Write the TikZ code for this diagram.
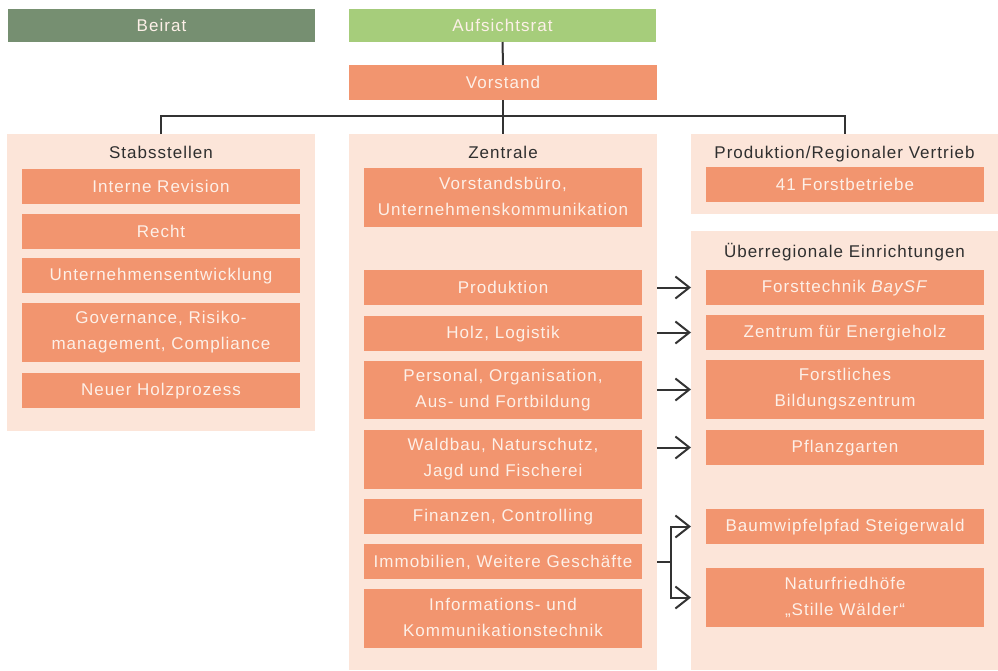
\documentclass[tikz,border=0pt]{standalone}
\usepackage{fontspec}
\setmainfont{Liberation Sans}[LetterSpace=6]
\usetikzlibrary{arrows.meta}
\definecolor{beirat}{HTML}{768F71}
\definecolor{aufs}{HTML}{A6CD7B}
\definecolor{ora}{HTML}{F2956F}
\definecolor{pan}{HTML}{FCE5D9}
\definecolor{txtl}{HTML}{FDF0E8}
\definecolor{txtd}{HTML}{2F2F2F}
\definecolor{lncol}{HTML}{333333}
\begin{document}
\begin{tikzpicture}[x=1pt,y=-1pt,
  base/.style={inner sep=0pt, outer sep=0pt, font=\fontsize{17}{26}\selectfont, align=center},
  strutted/.style={execute at begin node={\rule{0pt}{14pt}}, execute at end node={\rule[-1.8pt]{0pt}{1.8pt}}},
  obox/.style={base, strutted, fill=ora, text=txtl, minimum width=278pt, minimum height=35pt},
  tall/.style={minimum height=59pt},
  panel/.style={base, fill=pan, minimum width=308pt},
  ttl/.style={base, text=txtd, anchor=base},
  topbox/.style={base, strutted, text=txtl, minimum width=307pt, minimum height=33pt},
  ln/.style={draw=lncol, line width=2pt},
  arr/.style={ln, -{Straight Barb[length=14pt,width=22pt,line width=2pt]}}
]
\useasboundingbox (0,0) rectangle (998,670);

% top
\node[topbox, fill=beirat] (beirat) at (161.5,25.5) {Beirat};
\node[topbox, fill=aufs] (auf) at (502.5,25.5) {Aufsichtsrat};
\node[obox, minimum width=308pt] (vor) at (503,82.5) {Vorstand};

% panels
\node[panel, minimum height=297pt] (stab) at (161,282.5) {};
\node[panel, minimum height=536pt] (zen) at (503,402) {};
\node[panel, minimum width=307pt, minimum height=80pt] (prod) at (844.5,174) {};
\node[panel, minimum width=307pt, minimum height=439pt] (ueb) at (844.5,450.5) {};

% titles
\node[ttl] (tstab) at (161,158) {Stabsstellen};
\node[ttl] (tzen) at (503,158) {Zentrale};
\node[ttl] (tprod) at (844.5,158) {Produktion/Regionaler Vertrieb};
\node[ttl] (tueb) at (844.5,257) {Überregionale Einrichtungen};

% Stabsstellen
\node[obox] (ir) at (161,186.5) {Interne Revision};
\node[obox] (re) at (161,231.5) {Recht};
\node[obox] (ue) at (161,275.5) {Unternehmensentwicklung};
\node[obox, tall] (gov) at (161,332.5) {Governance, Risiko-\\management, Compliance};
\node[obox] (nh) at (161,390.5) {Neuer Holzprozess};

% Zentrale
\node[obox, tall] (vb) at (503,197.5) {Vorstandsbüro,\\Unternehmenskommunikation};
\node[obox] (zp) at (503,287.5) {Produktion};
\node[obox] (hl) at (503,333.5) {Holz, Logistik};
\node[obox, minimum height=58pt] (pers) at (503,390) {Personal, Organisation,\\Aus- und Fortbildung};
\node[obox, tall] (wald) at (503,459.5) {Waldbau, Naturschutz,\\Jagd und Fischerei};
\node[obox] (fin) at (503,516.5) {Finanzen, Controlling};
\node[obox] (imm) at (503,561.5) {Immobilien, Weitere Geschäfte};
\node[obox, tall] (ikt) at (503,618.5) {Informations- und\\Kommunikationstechnik};

% right
\node[obox] (fb) at (845,184.5) {41 Forstbetriebe};
\node[obox] (ft) at (845,287.5) {Forsttechnik \textit{BaySF}};
\node[obox] (ze) at (845,332.5) {Zentrum für Energieholz};
\node[obox, tall] (bz) at (845,389.5) {Forstliches\\Bildungszentrum};
\node[obox] (pg) at (845,447.5) {Pflanzgarten};
\node[obox] (bw) at (845,526.5) {Baumwipfelpfad Steigerwald};
\node[obox, tall] (nf) at (845,597.5) {Naturfriedhöfe\\„Stille Wälder“};

% connectors
\draw[ln] (auf.south) -- (vor.north);
\draw[ln] (vor.south) -- (zen.north);
\coordinate (bus) at (503,116);
\draw[ln] (stab.north) |- (bus) -| (prod.north);

\draw[arr] (ft.west -| zen.east) -- (ft.west -| ueb.west);
\draw[arr] (ze.west -| zen.east) -- (ze.west -| ueb.west);
\draw[arr] (bz.west -| zen.east) -- (bz.west -| ueb.west);
\draw[arr] (pg.west -| zen.east) -- (pg.west -| ueb.west);

\coordinate (br) at (671,561.5);
\draw[ln] (imm.east -| zen.east) -- (br);
\draw[arr] (br) |- (bw.west -| ueb.west);
\draw[arr] (br) |- (nf.west -| ueb.west);
\end{tikzpicture}
\end{document}
